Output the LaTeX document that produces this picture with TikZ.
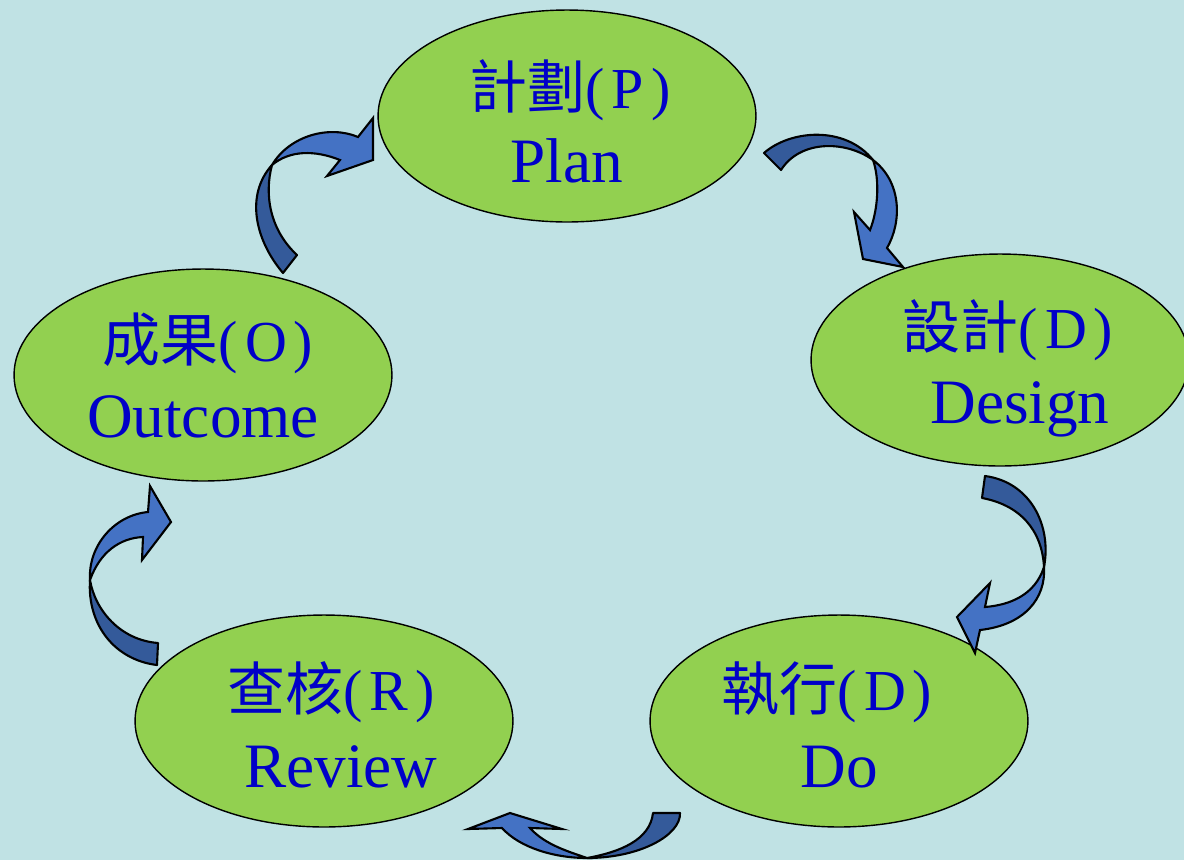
\documentclass[tikz,border=0pt]{standalone}
\usepackage{fontspec}
\setmainfont{Liberation Serif}
\newfontfamily\cjkfont{Noto Sans CJK TC}
\newfontfamily\tagfont[LetterSpace=12]{Liberation Serif}
\usetikzlibrary{shapes}

\definecolor{bgblue}{RGB}{192,226,228}
\definecolor{stagegreen}{RGB}{146,208,80}
\definecolor{textblue}{RGB}{0,0,200}
\definecolor{arrowdark}{RGB}{52,90,154}
\definecolor{arrowlight}{RGB}{68,114,196}

\begin{document}
\begin{tikzpicture}[
    x=0.02cm, y=-0.02cm,
    stage/.style={ellipse, draw=black, line width=0.8pt, fill=stagegreen, minimum width=7.56cm, minimum height=4.24cm},
    zhline/.style={anchor=base, text=textblue, font=\fontsize{33}{33}\selectfont},
    enline/.style={anchor=base, text=textblue, font=\fontsize{36}{36}\selectfont},
    tailpart/.style={fill=arrowdark, draw=black, line width=1.2pt, line join=round},
    headpart/.style={fill=arrowlight, draw=black, line width=1.2pt, line join=miter}
]

% Background
\fill[bgblue] (0,0) rectangle (1184,860);
\useasboundingbox (0,0) rectangle (1184,860);

% Stages
\node[stage] (plan) at (567,116) {};
\node[stage] (design) at (1000,360) {};
\node[stage] (do) at (839,721) {};
\node[stage] (review) at (324,721) {};
\node[stage] (outcome) at (203,375) {};

% Labels
\node[zhline] (plan-zh) at (570,108) {{\cjkfont 計劃}{\tagfont(P)}};
\node[enline] (plan-en) at (567,182) {Plan};
\node[zhline] (design-zh) at (1008,348) {{\cjkfont 設計}{\tagfont(D)}};
\node[enline] (design-en) at (1020,423) {Design};
\node[zhline] (do-zh) at (827,710) {{\cjkfont 執行}{\tagfont(D)}};
\node[enline] (do-en) at (839,787) {Do};
\node[zhline] (review-zh) at (331,710) {{\cjkfont 查核}{\tagfont(R)}};
\node[enline] (review-en) at (341,787) {Review};
\node[zhline] (outcome-zh) at (208,361) {{\cjkfont 成果}{\tagfont(O)}};
\node[enline] (outcome-en) at (203,437) {Outcome};

% Curved arrows: outcome -> plan
\filldraw[tailpart] (283,273) .. controls (255,240) and (245,195) .. (272,165)
    .. controls (264,195) and (270,230) .. (297,255) -- cycle;
\filldraw[headpart] (272,165) .. controls (290,135) and (330,125) .. (358,137)
    -- (373,118) -- (373,160) -- (327,176) -- (340,160)
    .. controls (315,150) and (290,150) .. (272,165) -- cycle;

% plan -> design
\filldraw[tailpart] (764,153) .. controls (790,130) and (845,125) .. (873,160)
    .. controls (845,140) and (800,140) .. (781,170) -- cycle;
\filldraw[headpart] (873,160) .. controls (902,182) and (902,222) .. (887,248)
    -- (903,267) -- (863,259) -- (854,212) -- (870,230)
    .. controls (878,210) and (880,180) .. (873,160) -- cycle;

% design -> do
\filldraw[tailpart] (985,476) .. controls (1030,482) and (1052,525) .. (1044,567)
    .. controls (1042,530) and (1020,505) .. (982,498) -- cycle;
\filldraw[headpart] (1044,567) .. controls (1046,598) and (1025,625) .. (980,630)
    -- (975,653) -- (957,617) -- (990,583) -- (985,607)
    .. controls (1010,605) and (1035,595) .. (1044,567) -- cycle;

% do -> review
\filldraw[tailpart] (680,813) .. controls (681,835) and (640,858) .. (587,858)
    .. controls (620,852) and (650,840) .. (653,813) -- cycle;
\filldraw[headpart] (587,858) .. controls (555,858) and (520,848) .. (502,828)
    -- (468,829) -- (510,813) -- (562,829) -- (530,828)
    .. controls (545,845) and (570,852) .. (587,858) -- cycle;

% review -> outcome
\filldraw[tailpart] (157,665) .. controls (115,660) and (87,625) .. (90,580)
    .. controls (95,610) and (120,640) .. (158,643) -- cycle;
\filldraw[headpart] (90,580) .. controls (88,545) and (115,515) .. (148,512)
    -- (150,486) -- (171,522) -- (142,560) -- (143,537)
    .. controls (120,538) and (100,552) .. (90,580) -- cycle;

\end{tikzpicture}
\end{document}
